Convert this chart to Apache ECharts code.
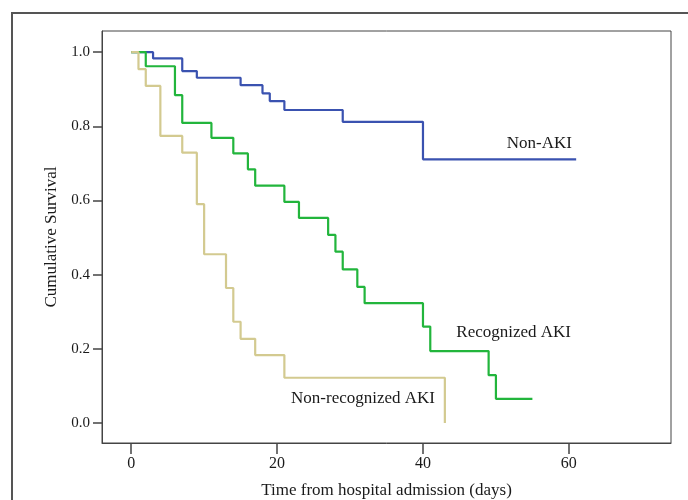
<!DOCTYPE html>
<html>
<head>
<meta charset="utf-8">
<script src="https://cdn.jsdelivr.net/npm/echarts@6/dist/echarts.min.js"></script>
<style>
  html, body { margin: 0; padding: 0; background: #fff; }
  #chart { width: 688px; height: 500px; }
</style>
</head>
<body>
<div id="chart"></div>
<script>
// Kaplan-Meier steps: day at which survival drops, and the new survival value
const nonAkiDays = [0, 3, 7, 9, 15, 18, 19, 21, 29, 40, 61]
const nonAkiSurv = [1, 0.983, 0.949, 0.931, 0.911, 0.889, 0.868, 0.844, 0.812, 0.711, 0.711]

const recAkiDays = [0, 2, 6, 7, 11, 14, 16, 17, 21, 23, 27, 28, 29, 31, 32, 40, 41, 49, 50, 55]
const recAkiSurv = [1, 0.962, 0.884, 0.809, 0.769, 0.727, 0.684, 0.640, 0.596, 0.553, 0.507, 0.462, 0.414, 0.367, 0.323, 0.26, 0.194, 0.129, 0.065, 0.065]

const nonRecDays = [0, 1, 2, 4, 7, 9, 10, 13, 14, 15, 17, 21, 43]
const nonRecSurv = [1, 0.954, 0.909, 0.774, 0.729, 0.590, 0.455, 0.364, 0.273, 0.227, 0.183, 0.122, 0]

const xTicks = [0, 20, 40, 60]
const yTicks = [0, 0.2, 0.4, 0.6, 0.8, 1.0]

const seriesNames = ['Non-AKI', 'Recognized AKI', 'Non-recognized AKI']
const seriesColors = ['#3a52b0', '#22b53c', '#d3ca90']

const FONT = '"Liberation Serif", "Times New Roman", serif'
const TEXT = '#1a1a1a'
const AXIS = '#444'

const toPairs = (xs, ys) => xs.map((x, i) => [x, ys[i]])

const chart = echarts.init(document.getElementById('chart'))

const mkSeries = (name, color, data) => ({
  name: name,
  type: 'line',
  step: 'end',
  showSymbol: false,
  symbol: 'none',
  animation: false,
  lineStyle: { color: color, width: 2.2 },
  itemStyle: { color: color },
  data: data
})

const option = {
  backgroundColor: '#fff',
  animation: false,
  grid: {
    left: 102,
    top: 31,
    right: 17,
    bottom: 57,
    outerBoundsMode: 'none',
    containLabel: false,
    show: true,
    borderColor: AXIS,
    borderWidth: 1,
    backgroundColor: 'transparent'
  },
  xAxis: {
    type: 'value',
    min: -4,
    max: 74,
    name: 'Time from hospital admission (days)',
    nameLocation: 'middle',
    nameGap: 39,
    nameTextStyle: { fontFamily: FONT, fontSize: 17, color: TEXT },
    axisLine: { onZero: false, lineStyle: { color: AXIS, width: 1 } },
    axisTick: { show: true, length: 11, customValues: xTicks, lineStyle: { color: AXIS, width: 1.5 } },
    axisLabel: { customValues: xTicks, margin: 13, fontFamily: FONT, fontSize: 16, color: TEXT },
    splitLine: { show: false }
  },
  yAxis: {
    type: 'value',
    min: -0.054,
    max: 1.057,
    name: 'Cumulative Survival',
    nameLocation: 'middle',
    nameGap: 41,
    nameTextStyle: { fontFamily: FONT, fontSize: 17, color: TEXT },
    axisLine: { onZero: false, lineStyle: { color: AXIS, width: 1 } },
    axisTick: { show: true, length: 9, customValues: yTicks, lineStyle: { color: AXIS, width: 1.5 } },
    axisLabel: {
      customValues: yTicks,
      margin: 12,
      fontFamily: FONT,
      fontSize: 15,
      color: TEXT,
      formatter: v => v.toFixed(1)
    },
    splitLine: { show: false }
  },
  graphic: [
    {
      type: 'rect',
      shape: { x: 12, y: 13, width: 720, height: 520 },
      style: { fill: 'none', stroke: '#555', lineWidth: 2 },
      silent: true
    },
    {
      type: 'text',
      x: 572, y: 144,
      style: { text: seriesNames[0], fontFamily: FONT, fontSize: 17, fill: TEXT, textAlign: 'right', textVerticalAlign: 'middle' }
    },
    {
      type: 'text',
      x: 571, y: 333,
      style: { text: seriesNames[1], fontFamily: FONT, fontSize: 17, fill: TEXT, textAlign: 'right', textVerticalAlign: 'middle' }
    },
    {
      type: 'text',
      x: 435, y: 399,
      style: { text: seriesNames[2], fontFamily: FONT, fontSize: 17, fill: TEXT, textAlign: 'right', textVerticalAlign: 'middle' }
    }
  ],
  series: [
    mkSeries(seriesNames[0], seriesColors[0], toPairs(nonAkiDays, nonAkiSurv)),
    mkSeries(seriesNames[1], seriesColors[1], toPairs(recAkiDays, recAkiSurv)),
    mkSeries(seriesNames[2], seriesColors[2], toPairs(nonRecDays, nonRecSurv))
  ]
}

chart.setOption(option)
</script>
</body>
</html>
